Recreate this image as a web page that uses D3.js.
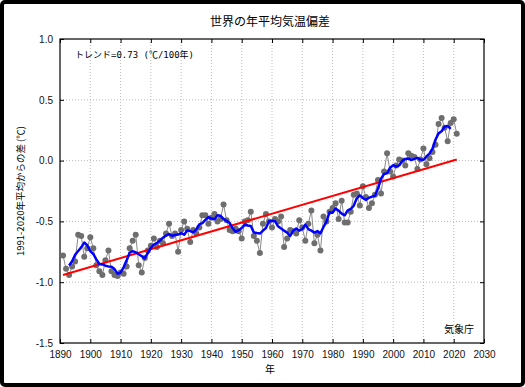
<!DOCTYPE html>
<html>
<head>
<meta charset="utf-8">
<script src="https://cdn.jsdelivr.net/npm/d3@7"></script>
<style>
  body { margin: 0; background: #fff; }
  text { font-family: "Liberation Sans", Arial, sans-serif; }
</style>
</head>
<body>
<svg width="525" height="387"></svg>
<script>
const svg = d3.select('svg');

// annual anomaly (deg C, vs 1991-2020 mean), 1891 .. 2021
const firstYear = 1891;
const anomaly = [
  -0.78, -0.89, -0.94, -0.87, -0.83, -0.61, -0.62, -0.79, -0.72,
  -0.63, -0.72, -0.86, -0.91, -0.94, -0.82, -0.74, -0.91, -0.94, -0.95,
  -0.92, -0.93, -0.87, -0.72, -0.66, -0.61, -0.86, -0.92, -0.80, -0.74,
  -0.70, -0.64, -0.71, -0.66, -0.68, -0.60, -0.52, -0.62, -0.60, -0.75,
  -0.57, -0.50, -0.56, -0.67, -0.57, -0.60, -0.55, -0.45, -0.45, -0.52,
  -0.47, -0.44, -0.50, -0.48, -0.36, -0.49, -0.57, -0.58, -0.56, -0.58,
  -0.64, -0.50, -0.49, -0.42, -0.62, -0.66, -0.76, -0.52, -0.44, -0.50,
  -0.55, -0.48, -0.50, -0.46, -0.71, -0.64, -0.57, -0.58, -0.60, -0.49,
  -0.55, -0.66, -0.52, -0.41, -0.68, -0.61, -0.74, -0.46, -0.50, -0.42,
  -0.39, -0.35, -0.48, -0.33, -0.51, -0.51, -0.42, -0.28, -0.27, -0.37,
  -0.21, -0.30, -0.39, -0.35, -0.28, -0.16, -0.27, -0.09, 0.06, -0.09,
  -0.13, -0.04, 0.01, 0.00, -0.04, 0.06, 0.04, 0.03, -0.07, 0.01,
  0.10, -0.03, 0.02, 0.07, 0.13, 0.30, 0.35, 0.27, 0.16, 0.31,
  0.34, 0.22,
];
const trendPer100 = 0.73;
const xTicks = d3.range(1890, 2031, 10);
const yTicks = [-1.5, -1.0, -0.5, 0.0, 0.5, 1.0];

const data = anomaly.map((v, i) => ({ year: firstYear + i, v }));

// 5-year running mean
const smooth = [];
for (let i = 2; i < data.length - 2; i++) {
  smooth.push({ year: data[i].year, v: d3.mean(data.slice(i - 2, i + 3), d => d.v) });
}

// trend line through the mean with the stated slope
const my = d3.mean(data, d => d.year);
const mv = d3.mean(data, d => d.v);
const trend = [firstYear, data[data.length - 1].year]
  .map(yr => ({ year: yr, v: mv + trendPer100 / 100 * (yr - my) }));

const m = { l: 60, r: 484, t: 39, b: 343 };
const x = d3.scaleLinear().domain([1890, 2030]).range([m.l, m.r]);
const y = d3.scaleLinear().domain([-1.5, 1.0]).range([m.b, m.t]);

// outer frame
svg.append('rect')
  .attr('x', 2).attr('y', 2).attr('width', 521).attr('height', 383)
  .attr('rx', 3)
  .attr('fill', 'none').attr('stroke', '#000').attr('stroke-width', 4);

// grid
svg.append('g').selectAll('line').data(xTicks.slice(1, -1)).join('line')
  .attr('x1', d => x(d)).attr('x2', d => x(d))
  .attr('y1', m.t).attr('y2', m.b)
  .attr('stroke', '#bbb').attr('stroke-dasharray', '1,2');
svg.append('g').selectAll('line').data(yTicks.slice(1, -1)).join('line')
  .attr('y1', d => y(d)).attr('y2', d => y(d))
  .attr('x1', m.l).attr('x2', m.r)
  .attr('stroke', '#bbb').attr('stroke-dasharray', '1,2');

// axes with inward ticks
const fmt = d => d.toFixed(1);
const ax = svg.append('g').attr('transform', `translate(0,${m.b})`)
  .call(d3.axisBottom(x).tickValues(xTicks).tickFormat(d3.format('d')).tickSize(-4).tickPadding(8));
const ay = svg.append('g').attr('transform', `translate(${m.l},0)`)
  .call(d3.axisLeft(y).tickValues(yTicks).tickFormat(fmt).tickSize(-4).tickPadding(7));
svg.append('g').attr('transform', `translate(0,${m.t})`)
  .call(d3.axisTop(x).tickValues(xTicks).tickFormat('').tickSize(-4));
svg.append('g').attr('transform', `translate(${m.r},0)`)
  .call(d3.axisRight(y).tickValues(yTicks).tickFormat('').tickSize(-4));
svg.selectAll('.domain').remove();
svg.selectAll('.tick line').attr('stroke', '#000');
[ax, ay].forEach(g => g.selectAll('text')
  .attr('font-size', 10).attr('fill', '#111')
  .style('font-family', '"Liberation Sans", Arial, sans-serif'));

svg.append('rect')
  .attr('x', m.l).attr('y', m.t).attr('width', m.r - m.l).attr('height', m.b - m.t)
  .attr('fill', 'none').attr('stroke', '#000').attr('stroke-width', 1.2);

// series
const line = d3.line().x(d => x(d.year)).y(d => y(d.v));
svg.append('path').datum(data).attr('d', line)
  .attr('fill', 'none').attr('stroke', '#8a8a8a').attr('stroke-width', 1);
svg.append('g').selectAll('circle').data(data).join('circle')
  .attr('cx', d => x(d.year)).attr('cy', d => y(d.v)).attr('r', 3)
  .attr('fill', '#6e6e6e');
svg.append('path').datum(trend).attr('d', line)
  .attr('fill', 'none').attr('stroke', '#ff0000').attr('stroke-width', 2);
svg.append('path').datum(smooth).attr('d', line)
  .attr('fill', 'none').attr('stroke', '#0000ff').attr('stroke-width', 2.5)
  .attr('stroke-linejoin', 'round');

// texts
const jp = '"Noto Sans CJK JP", "Noto Sans", sans-serif';
svg.append('text').attr('x', 270).attr('y', 26).attr('text-anchor', 'middle')
  .attr('font-size', 12).style('font-family', jp).text('世界の年平均気温偏差');
svg.append('text').attr('x', 75).attr('y', 58)
  .attr('font-size', 9).style('font-family', '"DejaVu Sans Mono", "Noto Sans CJK JP", monospace')
  .text('トレンド=0.73 (℃/100年)');
svg.append('text').attr('x', 474).attr('y', 333).attr('text-anchor', 'end')
  .attr('font-size', 10).style('font-family', jp).text('気象庁');
svg.append('text').attr('x', 270).attr('y', 373).attr('text-anchor', 'middle')
  .attr('font-size', 10).style('font-family', jp).text('年');
svg.append('text').attr('transform', 'translate(24,191) rotate(-90)').attr('text-anchor', 'middle')
  .attr('font-size', 9.5).style('font-family', jp).text('1991-2020年平均からの差 (℃)');
</script>
</body>
</html>
